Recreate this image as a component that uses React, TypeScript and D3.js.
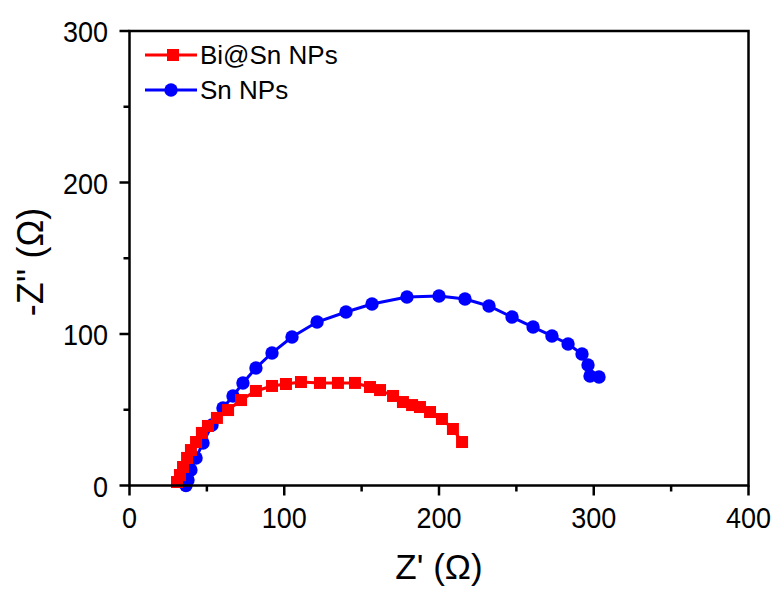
import React from "react";
import * as d3 from "d3";

const snX = [36.5, 37.8, 39.7, 43.0, 47.5, 53.3, 60.4, 66.9, 73.3, 81.7, 92.1, 105.0, 121.2, 139.9, 156.7, 179.3, 200.0, 216.8, 232.3, 247.2, 260.8, 273.0, 283.4, 292.4, 296.3, 297.6, 303.4];
const snY = [0, 3.6, 10.2, 18.2, 28.1, 39.9, 51.2, 59.1, 67.7, 77.6, 87.5, 98.0, 107.9, 114.5, 119.8, 124.4, 125.1, 123.1, 118.5, 111.2, 104.6, 98.7, 93.4, 86.8, 79.5, 72.3, 71.6];

const biX = [30.7, 32.6, 34.6, 37.2, 39.7, 43.0, 46.8, 50.7, 56.5, 63.7, 72.1, 81.7, 92.1, 101.1, 110.8, 123.1, 134.7, 145.7, 155.4, 161.9, 170.3, 176.7, 182.6, 187.7, 194.2, 201.9, 209.0, 214.9];
const biY = [2.3, 6.9, 12.2, 18.2, 23.4, 28.7, 34.7, 39.3, 44.6, 49.8, 56.4, 62.4, 65.7, 67.0, 68.3, 67.7, 67.7, 67.7, 65.0, 63.0, 59.1, 55.1, 53.1, 51.8, 48.5, 43.9, 37.3, 28.7];

const xTicks = [0, 100, 200, 300, 400];
const xMinor = [50, 150, 250, 350];
const yTicks = [0, 100, 200, 300];
const yMinor = [50, 150, 250];
const seriesNames = ["Bi@Sn NPs", "Sn NPs"];
const xTitle = "Z' (\u03A9)";
const yTitle = "-Z'' (\u03A9)";

const RED = "#ff0000";
const BLUE = "#0000ff";
const FONT = "Arial, 'Liberation Sans', Helvetica, sans-serif";

export default function App() {
  const x = d3.scaleLinear().domain([0, 400]).range([129.5, 748.5]);
  const y = d3.scaleLinear().domain([0, 300]).range([485.5, 31]);
  const sn = snX.map((v, i) => [v, snY[i]] as [number, number]);
  const bi = biX.map((v, i) => [v, biY[i]] as [number, number]);
  const line = d3.line<[number, number]>().x((d) => x(d[0])).y((d) => y(d[1]));
  const [x0, x1] = x.range();
  const [y0, y1] = y.range();
  const sq = 12;
  return (
    <svg width={778} height={596} style={{ position: "absolute", left: 0, top: 0, background: "#fff" }} fontFamily={FONT}>
      <rect x={0} y={0} width={778} height={596} fill="#fff" />
      <path d={line(sn) || ""} fill="none" stroke={BLUE} strokeWidth={3} />
      {sn.map((d, i) => (
        <circle key={"c" + i} cx={x(d[0])} cy={y(d[1])} r={6.7} fill={BLUE} />
      ))}
      <path d={line(bi) || ""} fill="none" stroke={RED} strokeWidth={3} />
      {bi.map((d, i) => (
        <rect key={"s" + i} x={x(d[0]) - sq / 2} y={y(d[1]) - sq / 2} width={sq} height={sq} fill={RED} />
      ))}
      <rect x={x0} y={y1} width={x1 - x0} height={y0 - y1} fill="none" stroke="#000" strokeWidth={2.5} />
      {xTicks.map((t) => (
        <g key={"xt" + t}>
          <line x1={x(t)} x2={x(t)} y1={y0} y2={y0 + 10} stroke="#000" strokeWidth={2.5} />
          <text transform={`translate(${x(t)},${528}) scale(0.9,1)`} textAnchor="middle" fontSize={30} fill="#000">
            {t}
          </text>
        </g>
      ))}
      {xMinor.map((t) => (
        <line key={"xm" + t} x1={x(t)} x2={x(t)} y1={y0} y2={y0 + 6} stroke="#000" strokeWidth={2.5} />
      ))}
      {yTicks.map((t) => (
        <g key={"yt" + t}>
          <line x1={x0} x2={x0 - 10} y1={y(t)} y2={y(t)} stroke="#000" strokeWidth={2.5} />
          <text transform={`translate(${108},${y(t) + 11}) scale(0.9,1)`} textAnchor="end" fontSize={30} fill="#000">
            {t}
          </text>
        </g>
      ))}
      {yMinor.map((t) => (
        <line key={"ym" + t} x1={x0} x2={x0 - 6} y1={y(t)} y2={y(t)} stroke="#000" strokeWidth={2.5} />
      ))}
      <text x={439} y={579} textAnchor="middle" fontSize={35} fill="#000">
        {xTitle}
      </text>
      <text transform={`translate(43,262) rotate(-90)`} textAnchor="middle" fontSize={36} fill="#000">
        {yTitle}
      </text>
      <g>
        <line x1={145} x2={197} y1={55} y2={55} stroke={RED} strokeWidth={3} />
        <rect x={173 - sq / 2} y={55 - sq / 2} width={sq} height={sq} fill={RED} />
        <text x={200} y={64} fontSize={26} fill="#000">
          {seriesNames[0]}
        </text>
        <line x1={145} x2={197} y1={90} y2={90} stroke={BLUE} strokeWidth={3} />
        <circle cx={171} cy={90} r={6.7} fill={BLUE} />
        <text x={200} y={99} fontSize={26} fill="#000">
          {seriesNames[1]}
        </text>
      </g>
    </svg>
  );
}
